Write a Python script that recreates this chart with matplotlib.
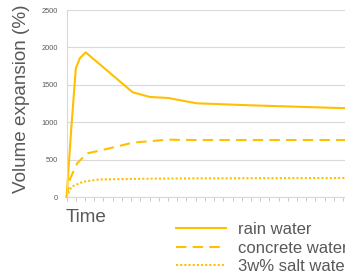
import matplotlib
matplotlib.use("Agg")
import matplotlib.pyplot as plt
import numpy as np

plt.rcParams['font.family'] = ['Liberation Sans', 'DejaVu Sans']

# data (time in arbitrary tick units)
rain_t = [0, 0.5, 1.0, 1.45, 2.07, 7.17, 9.05, 11.0, 14.1, 19.9, 30.5]
rain_v = [0, 900, 1720, 1858, 1934, 1400, 1337, 1324, 1253, 1226, 1186]
conc_t = [0, 0.4, 1.15, 2.2, 3.95, 7.2, 10.9, 14.0, 20.0, 30.5]
conc_v = [0, 250, 450, 583, 630, 727, 766, 762, 762, 762]
salt_t = [0, 0.3, 0.55, 1.8, 3.6, 9.0, 15.0, 30.5]
salt_v = [0, 80, 138, 205, 235, 245, 250, 254]
y_ticks = [0, 500, 1000, 1500, 2000, 2500]
labels = ["rain water", "concrete water", "3w% salt water"]

gold = "#FFC000"
gray = "#595959"

fig = plt.figure(figsize=(3.45, 2.74), dpi=100)
ax = fig.add_axes([0.193, 0.281, 0.807, 0.6825])

ax.plot(rain_t, rain_v, color=gold, lw=1.5, label=labels[0], clip_on=False)
ax.plot(conc_t, conc_v, color=gold, lw=1.5, ls=(0, (5, 3)), label=labels[1], clip_on=False)
ax.plot(salt_t, salt_v, color=gold, lw=1.5, ls=(0, (1, 1)), label=labels[2], clip_on=False)

ax.set_xlim(0, 30.2)
ax.set_ylim(0, 2500)
ax.set_yticks(y_ticks)
ax.set_yticklabels([str(v) for v in y_ticks], fontsize=5.3, color=gray)
ax.tick_params(axis='y', length=0, pad=6)
ax.set_xticks(np.arange(0, 31, 1))
ax.set_xticklabels([])
ax.tick_params(axis='x', length=3, color="#BFBFBF", width=0.6)
ax.grid(axis='y', color="#D9D9D9", lw=0.8)
ax.set_axisbelow(True)
for s in ['top', 'right']:
    ax.spines[s].set_visible(False)
for s in ['left', 'bottom']:
    ax.spines[s].set_color("#D9D9D9")
    ax.spines[s].set_linewidth(0.8)

fig.text(0.062, 0.638, "Volume expansion (%)", rotation=90, ha='center', va='center',
         fontsize=13.6, color=gray)
fig.text(0.19, 0.205, "Time", ha='left', va='center', fontsize=13.6, color=gray)

fig.legend(loc='upper left', bbox_to_anchor=(0.51, 0.19), frameon=False,
           fontsize=12, handlelength=3.0, handletextpad=0.72, labelspacing=0.22,
           borderaxespad=0, borderpad=0, labelcolor=gray)

fig.savefig("out.png", dpi=100)
